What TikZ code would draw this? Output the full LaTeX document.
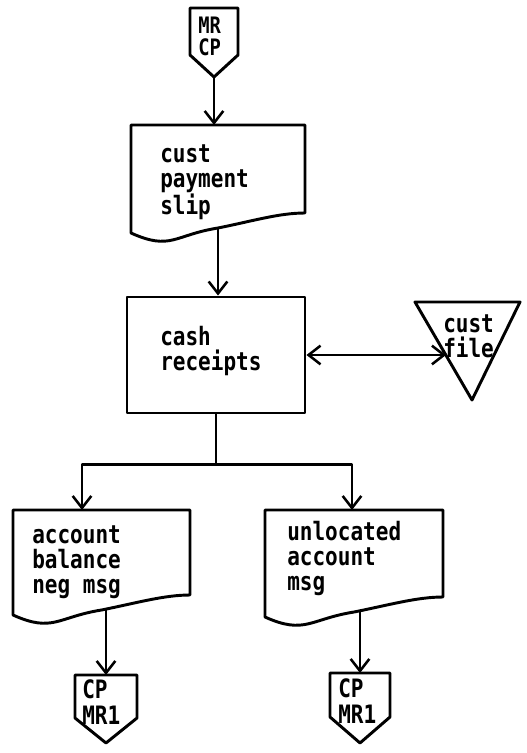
\documentclass[tikz,border=0pt]{standalone}
\usepackage{fontspec}
\newfontfamily\lpfont[FakeStretch=0.83]{DejaVu Sans Mono}
\usetikzlibrary{arrows.meta,calc}

% strut that fixes the first baseline 15pt below a label's top edge
\newcommand\firstln{\rule{0pt}{15pt}}

% off-page connector: name, centre x, top y, width, side height, tip height
\newcommand\offpage[6]{%
  \coordinate (#1-n) at (#2,#3);
  \coordinate (#1-tip) at (#2,{#3+#5+#6});
  \draw[ln] ({#2-#4/2},#3) -- ({#2+#4/2},#3) -- ({#2+#4/2},{#3+#5})
    -- (#1-tip) -- ({#2-#4/2},{#3+#5}) -- cycle;}

% document symbol: name, left x, top y, right x, bottom y at the left edge
\newcommand\docshape[5]{%
  \coordinate (#1-n) at ({(#2+#4)/2},#3);
  \coordinate (#1-out) at ({(#2+#4)/2},{#5-5});
  \draw[ln] (#2,#5) -- (#2,#3) -- (#4,#3) -- (#4,{#5-20})
    .. controls +(-26,0) and +(35,-7) .. (#1-out)
    .. controls +(-44,7) and +(40,18) .. (#2,#5) -- cycle;}

\tikzset{
  ln/.style={line width=2.2pt, line join=round, line cap=round},
  arr/.style={ln, -{Straight Barb[length=9pt,width=14pt,line width=1.9pt]}},
  arr2/.style={ln, {Straight Barb[length=9pt,width=14pt,line width=1.9pt]}-{Straight Barb[length=9pt,width=14pt,line width=1.9pt]}},
  lbl/.style={anchor=north west, inner sep=0pt, align=left,
    font=\lpfont\bfseries\fontsize{19}{19}\selectfont},
  small/.style={font=\lpfont\bfseries\fontsize{17}{17}\selectfont},
  box/.style={ln, draw, rectangle, inner sep=0pt}
}

\begin{document}
\begin{tikzpicture}[x=0.75pt,y=-0.75pt]
\useasboundingbox[fill=white] (0,0) rectangle (526,753);

% incoming payment connector
\offpage{mrcp}{214}{8}{48}{47}{22}
\node[lbl, small] (mrcptxt) at (198,13) {\firstln MR\\CP};

% customer payment slip
\docshape{slip}{131}{125}{305}{233}
\node[lbl] (sliptxt) at (160,142) {\firstln cust\\payment\\slip};

% cash receipts process
\node[box, minimum width=133.5pt, minimum height=87pt] (cash) at (216,355) {};
\node[lbl] (cashtxt) at (160,325) {\firstln cash\\receipts};

% customer file
\coordinate (cf-a) at (415,302);
\coordinate (cf-b) at (520,302);
\coordinate (cf-c) at (472,400);
\coordinate (cf-in) at (446,355);
\draw[ln] (cf-a) -- (cf-b) -- (cf-c) -- cycle;
\node[lbl] (cftxt) at (443,312) {\firstln cust\\file};

% output reports
\docshape{acct}{13}{510}{190}{615}
\node[lbl] (accttxt) at (32,523) {\firstln account\\balance\\neg msg};
\docshape{unloc}{265}{510}{443}{617}
\node[lbl] (unloctxt) at (287,520) {\firstln unlocated\\account\\msg};

% outgoing connectors
\offpage{cp1}{106}{675}{62}{43}{25}
\node[lbl] (cp1txt) at (82,678) {\firstln CP\\[1pt]MR1};
\offpage{cp2}{360}{673}{60}{44}{26}
\node[lbl] (cp2txt) at (338,677) {\firstln CP\\[1pt]MR1};

% flow
\draw[arr] (mrcp-tip) -- (mrcp-tip |- slip-n);
\draw[arr] (slip-out) -- (slip-out |- cash.north);
\draw[arr2] (cash.east |- cf-in) -- (cf-in);
\coordinate (split) at ($(cash.south)+(0,50)$);
\coordinate (acct-in) at (82,510);
\coordinate (unloc-in) at (352,510);
\draw[ln] (cash.south) -- (split);
\draw[arr] (split) -| (acct-in);
\draw[arr] (split) -| (unloc-in);
\draw[arr] (cp1-n |- acct-out) -- (cp1-n);
\draw[arr] (cp2-n |- unloc-out) -- (cp2-n);
\end{tikzpicture}
\end{document}
